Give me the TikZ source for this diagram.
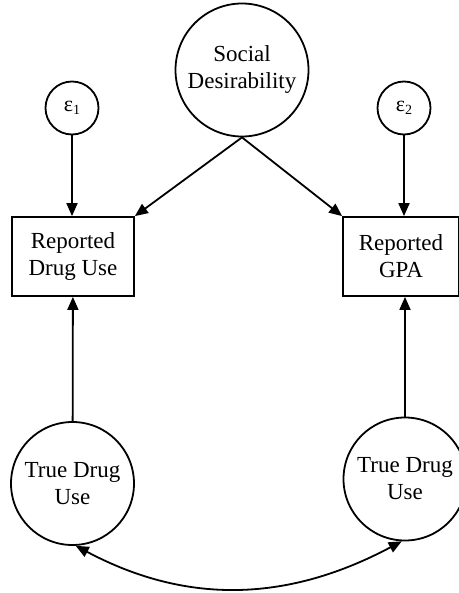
\documentclass[tikz,border=0pt]{standalone}
\usepackage{fontspec}
\setmainfont{Liberation Serif}
\usetikzlibrary{arrows.meta}
\begin{document}
\begin{tikzpicture}[x=1pt,y=-1pt,
  every node/.style={font=\fontsize{23}{27}\selectfont, align=center, inner sep=0pt},
  latent/.style={circle, draw, line width=1.8pt},
  obs/.style={rectangle, draw, line width=1.8pt, minimum width=122pt, minimum height=79pt},
  arr/.style={line width=1.8pt, -{Triangle[length=13pt,width=11pt]}},
  darr/.style={line width=1.8pt, {Triangle[length=13pt,width=11pt]}-{Triangle[length=13pt,width=11pt]}}]
\useasboundingbox (0,0) rectangle (458,593);
\node[latent, minimum size=133pt] (sd) at (242,70) {Social\\Desirability};
\node[latent, minimum size=53pt, font=\fontsize{22}{24}\selectfont] (e1) at (72,108) {ε\raisebox{-0.35ex}{\fontsize{14}{14}\selectfont 1}};
\node[latent, minimum size=53pt, font=\fontsize{22}{24}\selectfont] (e2) at (404,108) {ε\raisebox{-0.35ex}{\fontsize{14}{14}\selectfont 2}};
\node[obs] (rdu) at (73,256.5) {Reported\\Drug Use};
\node[obs, minimum width=116pt] (rgpa) at (401,256.5) {Reported\\GPA};
\node[latent, minimum size=123pt] (tdu1) at (72.5,483.5) {True Drug\\Use};
\node[latent, minimum size=123pt] (tdu2) at (405,479) {True Drug\\Use};
\draw[arr] (e1) -- (e1 |- rdu.north);
\draw[arr] (e2) -- (e2 |- rgpa.north);
\draw[arr] (sd.south) -- (rdu.north east);
\draw[arr] (sd.south) -- (rgpa.north west);
\draw[arr] (tdu1) -- (rdu);
\draw[arr] (tdu2 |- tdu2.north) -- (tdu2 |- rgpa.south);
\draw[darr] (tdu1.-87) to[out=-28,in=-152] (tdu2.-93);
\end{tikzpicture}
\end{document}
